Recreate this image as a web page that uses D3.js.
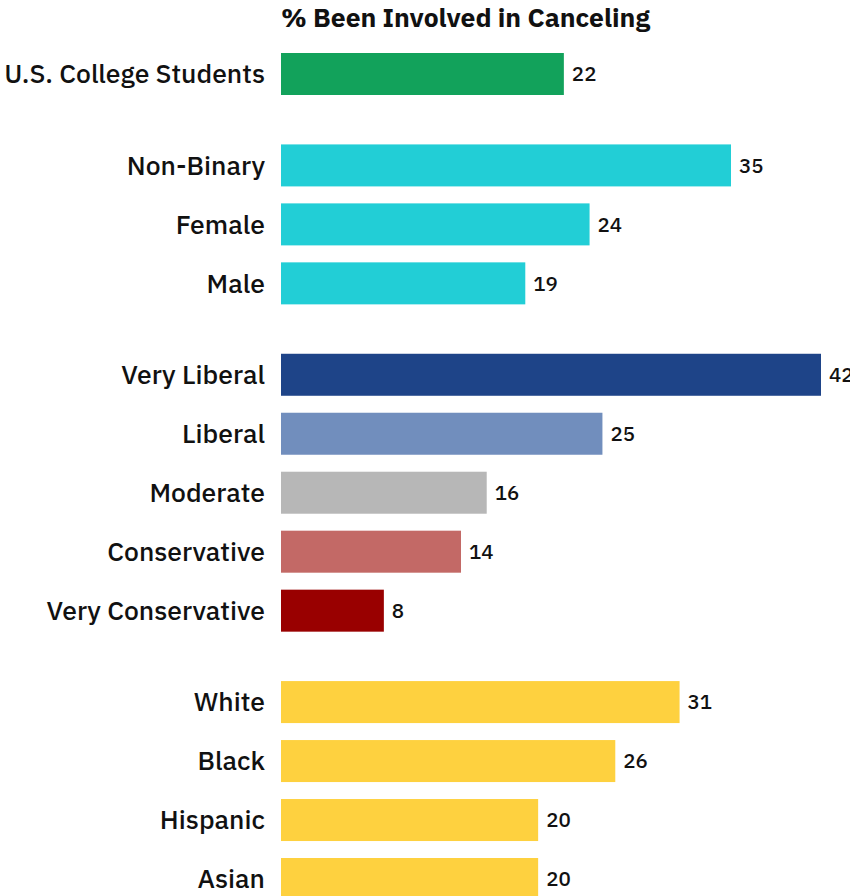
<!DOCTYPE html>
<html>
<head>
<meta charset="utf-8">
<script src="https://cdn.jsdelivr.net/npm/d3@7"></script>
<style>
  html, body { margin: 0; padding: 0; background: #fff; }
  svg { display: block; }
</style>
</head>
<body>
<svg id="chart" width="850" height="896"></svg>
<script>
// Share of respondents who have been involved in canceling, by subgroup
const categories = [
  "U.S. College Students",
  "Non-Binary", "Female", "Male",
  "Very Liberal", "Liberal", "Moderate", "Conservative", "Very Conservative",
  "White", "Black", "Hispanic", "Asian"
];
const values = [22, 35, 24, 19, 42, 25, 16, 14, 8, 31, 26, 20, 20];
const groups = ["all", "gender", "gender", "gender",
  "ideology", "ideology", "ideology", "ideology", "ideology",
  "race", "race", "race", "race"];
const barColors = ["#12A25B", "#22CED6", "#22CED6", "#22CED6",
  "#1E4488", "#718EBD", "#B7B7B7", "#C36966", "#990000",
  "#FED13F", "#FED13F", "#FED13F", "#FED13F"];
const title = "% Been Involved in Canceling";

const svg = d3.select("#chart");
const font = "'IBM Plex Sans', 'Roboto', 'Noto Sans', sans-serif";

// Row slots: one per bar plus a partial slot between groups
const groupGap = 0.55;
let gaps = 0;
const slots = categories.map((c, i) => {
  if (i > 0 && groups[i] !== groups[i - 1]) gaps += 1;
  return i + gaps * groupGap;
});

const x = d3.scaleLinear().domain([0, 42]).range([281, 821]);
const y = d3.scaleLinear().domain([0, d3.max(slots)]).range([74, 879]);
const barH = 42;

const rows = categories.map((c, i) => ({ c, v: values[i], s: slots[i], col: barColors[i] }));

svg.append("text")
  .attr("x", x(0))
  .attr("y", 27)
  .attr("font-family", font)
  .attr("font-weight", 700)
  .attr("font-size", 26.5)
  .attr("fill", "#111")
  .text(title);

const row = svg.selectAll("g.row").data(rows).join("g").attr("class", "row");

row.append("rect")
  .attr("x", x(0))
  .attr("y", d => y(d.s) - barH / 2)
  .attr("width", d => x(d.v) - x(0))
  .attr("height", barH)
  .attr("fill", d => d.col);

row.append("text")
  .attr("x", x(0) - 16)
  .attr("y", d => y(d.s))
  .attr("dy", "0.35em")
  .attr("text-anchor", "end")
  .attr("font-family", font)
  .attr("font-weight", 500)
  .attr("font-size", 26.5)
  .attr("fill", "#111")
  .text(d => d.c);

row.append("text")
  .attr("x", d => x(d.v) + 8)
  .attr("y", d => y(d.s))
  .attr("dy", "0.35em")
  .attr("font-family", font)
  .attr("font-weight", 500)
  .attr("font-size", 20.5)
  .attr("fill", "#111")
  .text(d => d.v);
</script>
</body>
</html>
